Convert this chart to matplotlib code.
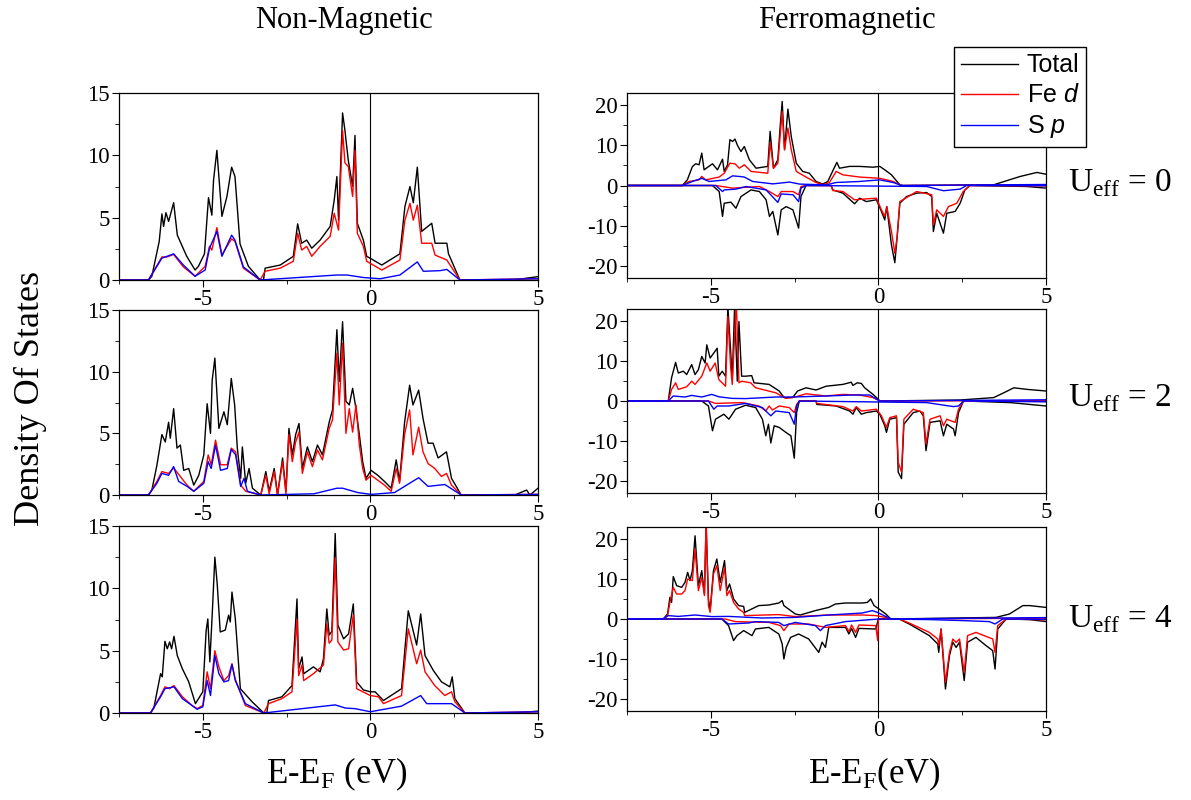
import matplotlib.pyplot as plt
from matplotlib.ticker import MultipleLocator
from matplotlib.lines import Line2D

plt.rcParams['font.family'] = 'Liberation Serif'
plt.rcParams['mathtext.fontset'] = 'custom'
plt.rcParams['mathtext.rm'] = 'Liberation Serif'
plt.rcParams['mathtext.it'] = 'Liberation Sans:italic'
plt.rcParams['axes.unicode_minus'] = False

# ---- data: (E - E_F in eV, DOS) ----

# Non-magnetic, U_eff = 0
nm_u0_total = [(-7.5, 0), (-6.62, 0), (-6.52, 0.3), (-6.30, 3.1), (-6.22, 5.3), (-6.17, 4.3), (-6.10, 5.4),
               (-6.02, 4.7), (-5.87, 6.2), (-5.76, 3.6), (-5.48, 1.9), (-5.23, 0.8), (-5.13, 1.1), (-4.95, 2.1),
               (-4.83, 6.6), (-4.73, 5.2), (-4.68, 8.0), (-4.58, 10.4), (-4.43, 5.1), (-4.28, 6.7), (-4.14, 9.05),
               (-4.04, 8.3), (-3.89, 2.9), (-3.64, 1.1), (-3.29, 0), (-3.19, 0), (-3.14, 0.95), (-2.69, 1.2),
               (-2.30, 1.9), (-2.17, 4.5), (-2.05, 2.95), (-1.90, 3.2), (-1.75, 2.55), (-1.50, 3.2), (-1.20, 4.3),
               (-1.08, 6.4), (-1.00, 8.3), (-0.95, 4.8), (-0.83, 13.4), (-0.76, 12.0), (-0.66, 9.6), (-0.53, 7.5),
               (-0.46, 11.6), (-0.39, 4.55), (-0.21, 3.2), (-0.11, 1.9), (-0.01, 1.75), (0.34, 1.2), (0.88, 2.1),
               (1.03, 5.9), (1.18, 7.5), (1.28, 6.2), (1.40, 9.05), (1.53, 3.9), (1.83, 4.55), (1.93, 2.95),
               (2.28, 2.95), (2.33, 2.1), (2.67, 0), (4.26, 0), (5.0, 0.27)]
nm_u0_fed = [(-7.5, 0), (-6.62, 0), (-6.22, 1.85), (-6.07, 1.85), (-5.87, 2.05), (-5.58, 1.05), (-5.23, 0.3),
             (-4.93, 1.1), (-4.80, 2.7), (-4.73, 2.4), (-4.58, 4.2), (-4.43, 2.0), (-4.28, 2.7), (-4.14, 3.3),
             (-4.04, 3.1), (-3.79, 0.95), (-3.29, 0), (-3.14, 0.7), (-2.69, 0.95), (-2.30, 1.5), (-2.17, 3.75),
             (-2.05, 2.4), (-1.90, 2.7), (-1.75, 1.9), (-1.50, 2.7), (-1.20, 3.5), (-1.08, 5.35), (-0.95, 4.0),
             (-0.83, 12.0), (-0.76, 9.4), (-0.66, 9.1), (-0.53, 6.7), (-0.46, 10.4), (-0.39, 3.75), (-0.21, 2.7),
             (-0.11, 1.5), (0.34, 0.8), (0.88, 1.6), (1.03, 4.8), (1.18, 6.15), (1.28, 4.8), (1.40, 6.0),
             (1.53, 2.95), (1.83, 2.95), (1.93, 2.0), (2.28, 1.6), (2.67, 0), (5.0, 0.1)]
nm_u0_sp = [(-7.5, 0), (-6.62, 0), (-6.22, 1.75), (-5.87, 2.1), (-5.58, 1.2), (-5.23, 0.3), (-4.93, 0.8),
            (-4.80, 2.55), (-4.58, 3.9), (-4.43, 1.9), (-4.14, 3.6), (-4.04, 3.2), (-3.79, 1.05), (-3.29, 0),
            (-1.00, 0.4), (-0.70, 0.4), (-0.21, 0.2), (0.29, 0.1), (0.88, 0.4), (1.40, 1.45), (1.58, 0.7),
            (2.08, 0.75), (2.28, 0.85), (2.67, 0), (5.0, 0.1)]

# Non-magnetic, U_eff = 2
nm_u2_total = [(-7.5, 0), (-6.62, 0), (-6.52, 0.4), (-6.37, 2.4), (-6.22, 4.9), (-6.12, 4.3), (-6.02, 5.9),
               (-5.97, 4.6), (-5.87, 7.0), (-5.77, 3.8), (-5.67, 4.05), (-5.57, 2.0), (-5.42, 2.15), (-5.27, 0.8),
               (-5.12, 1.6), (-4.97, 3.25), (-4.87, 7.4), (-4.77, 5.0), (-4.72, 9.3), (-4.64, 11.1), (-4.52, 5.4),
               (-4.37, 6.75), (-4.27, 5.7), (-4.15, 9.45), (-4.05, 7.3), (-3.97, 3.8), (-3.87, 1.35), (-3.82, 3.9),
               (-3.72, 0.95), (-3.62, 2.15), (-3.52, 0.55), (-3.27, 0), (-3.12, 1.9), (-3.02, 0.3), (-2.87, 2.15),
               (-2.77, 0), (-2.62, 3.0), (-2.52, 0.3), (-2.43, 5.4), (-2.33, 3.25), (-2.23, 4.9), (-2.13, 5.8),
               (-2.03, 2.15), (-1.88, 3.9), (-1.73, 2.7), (-1.58, 4.05), (-1.43, 3.25), (-1.23, 5.9), (-1.13, 6.9),
               (-1.00, 13.4), (-0.93, 9.2), (-0.83, 14.05), (-0.73, 7.6), (-0.63, 7.3), (-0.53, 8.65), (-0.43, 7.0),
               (-0.33, 4.9), (-0.23, 2.7), (-0.13, 1.35), (0.02, 2.0), (0.22, 1.6), (0.42, 1.1), (0.62, 0.55),
               (0.77, 2.85), (0.87, 1.1), (1.02, 5.9), (1.17, 8.9), (1.27, 7.3), (1.44, 8.5), (1.57, 6.2),
               (1.72, 4.2), (1.87, 4.2), (2.02, 3.0), (2.27, 3.5), (2.42, 1.35), (2.71, 0), (4.31, 0), (4.66, 0.4),
               (4.76, 0), (5.0, 0.55)]
nm_u2_fed = [(-7.5, 0), (-6.62, 0), (-6.37, 1.1), (-6.22, 1.9), (-6.02, 1.75), (-5.87, 2.2), (-5.67, 1.5),
             (-5.47, 0.8), (-5.27, 0.3), (-4.97, 1.1), (-4.84, 3.25), (-4.75, 2.45), (-4.62, 4.45), (-4.47, 2.45),
             (-4.27, 2.45), (-4.15, 3.8), (-4.02, 3.5), (-3.87, 0.8), (-3.72, 0.3), (-3.27, 0), (-3.12, 1.6),
             (-3.02, 0.1), (-2.87, 1.9), (-2.77, 0), (-2.62, 2.7), (-2.52, 0.1), (-2.43, 4.9), (-2.33, 2.7),
             (-2.23, 4.3), (-2.13, 5.1), (-2.03, 1.75), (-1.88, 3.5), (-1.73, 2.3), (-1.58, 3.65), (-1.43, 2.85),
             (-1.23, 5.4), (-1.13, 6.1), (-1.00, 11.5), (-0.93, 7.3), (-0.83, 12.3), (-0.73, 5.0), (-0.63, 7.0),
             (-0.53, 5.1), (-0.43, 7.3), (-0.33, 4.05), (-0.23, 2.15), (-0.13, 1.2), (0.02, 1.6), (0.22, 1.2),
             (0.42, 0.8), (0.62, 0.3), (0.77, 2.15), (0.87, 0.95), (1.02, 4.9), (1.17, 6.9), (1.27, 3.25),
             (1.44, 5.5), (1.57, 3.5), (1.72, 2.55), (1.92, 2.15), (2.12, 1.5), (2.27, 1.75), (2.42, 0.8),
             (2.71, 0), (5.0, 0.05)]
nm_u2_sp = [(-7.5, 0), (-6.62, 0), (-6.37, 0.95), (-6.22, 1.75), (-6.02, 1.6), (-5.87, 2.3), (-5.72, 1.1),
            (-5.47, 0.7), (-5.27, 0.3), (-4.97, 0.95), (-4.84, 2.7), (-4.75, 2.15), (-4.62, 4.05), (-4.47, 2.0),
            (-4.27, 2.15), (-4.15, 3.7), (-4.02, 3.25), (-3.87, 0.7), (-3.77, 1.35), (-3.67, 0.3), (-3.27, 0),
            (-1.68, 0.1), (-1.0, 0.55), (-0.83, 0.55), (-0.38, 0.2), (0.02, 0.05), (0.72, 0.2), (1.17, 0.95),
            (1.44, 1.4), (1.72, 0.7), (2.22, 0.85), (2.71, 0), (5.0, 0.05)]

# Non-magnetic, U_eff = 4
nm_u4_total = [(-7.5, 0), (-6.56, 0), (-6.46, 0.4), (-6.26, 3.15), (-6.21, 2.9), (-6.13, 5.75), (-6.06, 5.15),
               (-5.99, 5.7), (-5.93, 5.15), (-5.86, 6.15), (-5.76, 4.6), (-5.61, 3.55), (-5.42, 2.5), (-5.22, 0.75),
               (-5.07, 1.4), (-5.0, 1.7), (-4.90, 6.6), (-4.85, 7.55), (-4.79, 4.1), (-4.72, 7.85), (-4.64, 12.5),
               (-4.57, 10.35), (-4.48, 6.5), (-4.33, 6.65), (-4.23, 7.85), (-4.18, 7.3), (-4.13, 9.7), (-4.03, 7.55),
               (-3.88, 1.95), (-3.53, 0.9), (-3.18, 0), (-3.09, 0), (-3.04, 1.0), (-2.64, 1.3), (-2.34, 2.2),
               (-2.19, 9.15), (-2.14, 3.55), (-2.04, 4.5), (-1.99, 3.15), (-1.70, 3.7), (-1.50, 3.3), (-1.40, 4.35),
               (-1.30, 8.35), (-1.23, 6.25), (-1.15, 6.55), (-1.05, 14.4), (-0.97, 7.05), (-0.80, 5.95),
               (-0.65, 6.35), (-0.51, 8.75), (-0.41, 2.5), (-0.21, 1.85), (0.0, 1.7), (0.14, 1.7), (0.39, 1.0),
               (0.93, 1.95), (1.03, 5.15), (1.13, 8.2), (1.38, 5.45), (1.50, 7.95), (1.63, 4.6), (1.88, 3.4),
               (2.12, 2.5), (2.37, 2.1), (2.44, 2.9), (2.52, 1.15), (2.82, 0), (4.31, 0), (5.0, 0.15)]
nm_u4_fed = [(-7.5, 0), (-6.56, 0), (-6.26, 1.4), (-6.13, 2.1), (-5.99, 1.95), (-5.86, 2.2), (-5.61, 1.3),
             (-5.32, 0.6), (-5.17, 0.35), (-5.0, 0.6), (-4.87, 3.3), (-4.77, 1.95), (-4.64, 5.0), (-4.52, 3.7),
             (-4.37, 2.6), (-4.23, 3.0), (-4.13, 3.95), (-4.03, 2.7), (-3.73, 0.6), (-3.18, 0), (-3.04, 0.75),
             (-2.64, 1.15), (-2.34, 1.7), (-2.19, 7.5), (-2.14, 3.0), (-2.04, 3.85), (-1.99, 2.6), (-1.70, 3.15),
             (-1.40, 3.85), (-1.30, 7.15), (-1.23, 5.6), (-1.15, 5.85), (-1.05, 12.45), (-0.97, 5.7),
             (-0.80, 5.05), (-0.65, 5.15), (-0.51, 7.85), (-0.41, 1.95), (0.0, 1.4), (0.24, 1.3), (0.39, 0.75),
             (0.93, 1.4), (1.03, 4.1), (1.13, 6.75), (1.38, 3.95), (1.50, 5.05), (1.63, 3.3), (1.92, 2.2),
             (2.22, 1.4), (2.42, 1.7), (2.52, 0.9), (2.82, 0), (5.0, 0.1)]
nm_u4_sp = [(-7.5, 0), (-6.56, 0), (-6.26, 1.3), (-6.13, 1.95), (-5.86, 2.1), (-5.61, 1.15), (-5.32, 0.6),
            (-5.17, 0.3), (-5.0, 0.5), (-4.87, 2.6), (-4.77, 1.4), (-4.64, 4.6), (-4.52, 3.15), (-4.37, 2.5),
            (-4.23, 2.6), (-4.13, 3.9), (-4.03, 2.6), (-3.73, 0.75), (-3.18, 0), (-1.05, 0.65), (-0.75, 0.4),
            (-0.46, 0.35), (0.0, 0.1), (0.93, 0.55), (1.50, 1.4), (1.68, 0.75), (2.42, 0.75), (2.82, 0),
            (5.0, 0.1)]

# Ferromagnetic, U_eff = 0 (spin up positive, spin down negative)
fm_u0_total_up = [(-7.5, 0), (-5.85, 0), (-5.70, 1.4), (-5.55, 4.7), (-5.45, 5.4), (-5.35, 5.15), (-5.27, 8.05),
                  (-5.20, 3.9), (-4.95, 5.4), (-4.80, 3.9), (-4.65, 6.55), (-4.60, 3.5), (-4.50, 5.15),
                  (-4.43, 11.4), (-4.35, 10.95), (-4.28, 11.55), (-4.20, 9.9), (-4.10, 8.45), (-4.00, 9.7),
                  (-3.85, 6.4), (-3.65, 4.3), (-3.30, 4.75), (-3.23, 13.45), (-3.13, 4.3), (-3.00, 6.4),
                  (-2.93, 14.7), (-2.87, 20.9), (-2.80, 8.9), (-2.70, 19.0), (-2.60, 12.2), (-2.45, 5.55),
                  (-2.26, 3.5), (-2.06, 3.05), (-1.86, 1.0), (-1.66, 0.35), (-1.51, 1.0), (-1.36, 3.65),
                  (-1.24, 5.75), (-1.16, 4.3), (-0.86, 4.75), (-0.56, 4.75), (-0.16, 4.55), (0.04, 4.75),
                  (0.19, 3.9), (0.39, 2.65), (0.64, 0.15), (0.74, 0), (3.43, 0.15), (4.23, 2.25), (4.73, 3.25),
                  (5.0, 2.8)]
fm_u0_total_dn = [(-7.5, 0), (-4.95, 0), (-4.75, -1.5), (-4.65, -7.7), (-4.60, -4.4), (-4.40, -4.15),
                  (-4.25, -5.65), (-4.10, -2.75), (-3.80, -1.1), (-3.55, -1.5), (-3.35, -3.55), (-3.25, -7.7),
                  (-3.15, -6.45), (-3.00, -12.3), (-2.90, -6.05), (-2.75, -5.25), (-2.55, -6.05), (-2.38, -10.6),
                  (-2.31, -2.75), (-2.16, 0), (-1.41, 0), (-1.36, -1.1), (-1.06, -1.9), (-0.71, -4.55),
                  (-0.56, -3.15), (-0.36, -4.0), (-0.06, -3.55), (0.09, -6.45), (0.19, -8.55), (0.25, -5.25),
                  (0.39, -14.8), (0.49, -19.2), (0.56, -12.7), (0.64, -4.4), (0.84, -2.75), (1.14, -1.9),
                  (1.44, -1.75), (1.59, -2.75), (1.64, -11.45), (1.74, -6.9), (1.94, -11.85), (2.04, -6.9),
                  (2.29, -6.45), (2.44, -4.4), (2.58, -1.1), (2.73, 0), (4.43, -0.25), (5.0, -0.65)]
fm_u0_fed_up = [(-7.5, 0), (-5.85, 0), (-5.65, 1.0), (-5.35, 1.4), (-5.27, 2.25), (-5.15, 1.4), (-4.75, 2.1),
                (-4.60, 3.05), (-4.43, 5.55), (-4.28, 5.4), (-4.15, 4.3), (-4.00, 5.15), (-3.80, 3.5),
                (-3.30, 3.05), (-3.23, 10.7), (-3.13, 4.3), (-3.00, 5.55), (-2.87, 18.4), (-2.80, 8.9),
                (-2.70, 14.3), (-2.60, 8.9), (-2.45, 3.5), (-2.16, 2.1), (-1.86, 0.75), (-1.66, 0.15),
                (-1.46, 0.75), (-1.26, 3.5), (-1.06, 2.65), (-0.56, 2.1), (0.04, 1.8), (0.44, 1.0), (0.69, 0),
                (5.0, 0.15)]
fm_u0_fed_dn = [(-7.5, 0), (-4.85, 0), (-4.35, -0.65), (-3.55, -0.25), (-3.25, -1.5), (-3.00, -2.75),
                (-2.90, -1.5), (-2.55, -1.5), (-2.38, -2.3), (-2.31, -0.25), (-2.16, 0), (-1.41, 0),
                (-1.36, -1.25), (-1.06, -1.5), (-0.71, -3.55), (-0.06, -3.15), (0.09, -6.05), (0.19, -7.7),
                (0.25, -5.25), (0.39, -11.45), (0.49, -16.85), (0.56, -12.7), (0.64, -4.0), (1.14, -1.5),
                (1.59, -2.3), (1.64, -9.8), (1.74, -6.05), (1.94, -7.7), (2.09, -5.25), (2.34, -4.4),
                (2.53, -1.5), (2.73, 0), (5.0, -0.1)]
fm_u0_sp_up = [(-7.5, 0), (-5.85, 0), (-5.55, 1.0), (-5.27, 1.8), (-5.05, 1.0), (-4.55, 1.4), (-4.35, 2.4),
               (-4.15, 2.25), (-4.00, 2.1), (-3.75, 1.0), (-3.15, 0.4), (-2.65, 0.85), (-2.35, 0.35),
               (-1.56, 0.15), (-1.26, 0.75), (-0.56, 1.0), (0.04, 1.4), (0.44, 0.75), (0.69, 0), (5.0, 0.25)]
fm_u0_sp_dn = [(-7.5, 0), (-4.85, 0), (-4.65, -1.5), (-4.60, -1.1), (-4.25, -0.9), (-3.95, -0.25),
               (-3.35, -1.1), (-3.00, -4.2), (-2.90, -2.1), (-2.55, -2.3), (-2.38, -4.0), (-2.31, -0.65),
               (-2.16, 0), (1.44, -0.25), (1.94, -1.3), (2.44, -0.9), (2.63, 0), (5.0, -0.05)]

# Ferromagnetic, U_eff = 2
fm_u2_total_up = [(-7.5, 0), (-6.27, 0), (-6.17, 5.8), (-6.05, 9.65), (-5.97, 7.0), (-5.82, 7.45), (-5.72, 6.6),
                  (-5.57, 9.1), (-5.47, 6.6), (-5.37, 7.85), (-5.27, 11.15), (-5.17, 9.5), (-5.12, 14.05),
                  (-5.02, 10.75), (-4.91, 12.0), (-4.81, 13.2), (-4.76, 6.2), (-4.66, 7.45), (-4.56, 6.2),
                  (-4.49, 23.5), (-4.41, 12.8), (-4.36, 5.35), (-4.29, 23.5), (-4.21, 4.95), (-4.16, 19.85),
                  (-4.08, 6.2), (-3.96, 6.2), (-3.78, 6.35), (-3.71, 4.55), (-3.26, 4.15), (-2.96, 2.5),
                  (-2.81, 0.85), (-2.56, 0.85), (-2.41, 2.5), (-2.16, 3.3), (-1.86, 2.75), (-1.56, 3.7),
                  (-1.06, 4.15), (-0.81, 4.7), (-0.76, 3.9), (-0.63, 4.55), (-0.51, 4.4), (-0.41, 3.3),
                  (-0.16, 1.65), (0.0, 0.4), (0.04, 0), (2.44, 0.25), (3.44, 0.85), (3.74, 2.05), (4.04, 3.3),
                  (4.44, 2.9), (5.0, 2.5)]
fm_u2_total_dn = [(-7.5, 0), (-5.27, 0), (-5.07, -1.25), (-4.95, -7.45), (-4.86, -4.55), (-4.61, -3.3),
                  (-4.46, -4.55), (-4.26, -2.05), (-3.96, -1.05), (-3.66, -1.65), (-3.46, -4.55), (-3.36, -8.7),
                  (-3.28, -5.8), (-3.21, -10.5), (-3.11, -6.2), (-2.96, -6.6), (-2.76, -7.85), (-2.61, -8.7),
                  (-2.51, -14.3), (-2.44, -2.9), (-2.36, 0), (-1.86, 0), (-1.84, -0.85), (-1.26, -1.25),
                  (-0.86, -2.5), (-0.76, -3.3), (-0.66, -1.65), (-0.51, -3.3), (-0.36, -2.9), (-0.06, -2.5),
                  (0.04, -3.3), (0.19, -6.2), (0.24, -7.85), (0.34, -4.55), (0.54, -4.15), (0.59, -17.75),
                  (0.69, -19.4), (0.76, -5.8), (1.04, -2.9), (1.24, -2.5), (1.34, -3.7), (1.42, -12.4),
                  (1.54, -5.35), (1.84, -4.95), (1.94, -8.7), (2.04, -5.8), (2.24, -7.0), (2.29, -8.7),
                  (2.39, -2.9), (2.54, 0), (3.94, -0.4), (5.0, -1.25)]
fm_u2_fed_up = [(-7.5, 0), (-6.27, 0), (-6.17, 2.9), (-6.05, 4.55), (-5.97, 2.9), (-5.72, 3.55), (-5.57, 4.95),
                (-5.47, 4.15), (-5.27, 6.2), (-5.12, 9.5), (-5.02, 7.45), (-4.87, 9.5), (-4.76, 5.35),
                (-4.56, 3.7), (-4.49, 21.1), (-4.41, 8.7), (-4.36, 4.15), (-4.24, 25.0), (-4.16, 4.55),
                (-4.08, 4.95), (-3.81, 4.55), (-3.66, 3.3), (-3.06, 2.05), (-2.76, 0.65), (-2.46, 1.05),
                (-2.16, 1.8), (-1.56, 1.25), (-1.06, 1.65), (-0.56, 1.5), (-0.16, 0.85), (0.04, 0), (5.0, 0.1)]
fm_u2_fed_dn = [(-7.5, 0), (-5.07, 0), (-4.86, -0.6), (-4.06, -0.4), (-3.56, -1.25), (-3.36, -2.5),
                (-3.26, -1.25), (-3.16, -2.25), (-2.96, -1.25), (-2.66, -1.65), (-2.51, -2.9), (-2.44, -0.85),
                (-2.36, 0), (-1.86, 0), (-1.84, -0.6), (-1.06, -1.4), (-0.76, -2.5), (-0.66, -1.4), (-0.51, -2.5),
                (-0.06, -2.05), (0.09, -3.7), (0.24, -6.6), (0.34, -4.15), (0.54, -3.7), (0.59, -15.3),
                (0.69, -17.75), (0.76, -4.55), (1.04, -2.05), (1.34, -2.9), (1.42, -10.75), (1.54, -4.55),
                (1.84, -3.7), (1.94, -6.2), (2.04, -4.55), (2.29, -5.35), (2.39, -2.05), (2.54, 0), (5.0, -0.1)]
fm_u2_sp_up = [(-7.5, 0), (-6.27, 0), (-6.12, 1.25), (-5.77, 1.0), (-5.57, 1.4), (-5.27, 1.0), (-4.97, 1.65),
               (-4.76, 1.05), (-4.36, 0.65), (-3.96, 0.6), (-3.06, 1.0), (-2.56, 1.0), (-1.56, 1.25),
               (-0.76, 1.5), (-0.26, 1.5), (0.04, 0), (5.0, 0.3)]
fm_u2_sp_dn = [(-7.5, 0), (-5.07, 0), (-4.91, -2.05), (-4.81, -1.25), (-4.46, -1.25), (-3.96, -0.6),
               (-3.46, -1.65), (-3.21, -3.7), (-3.06, -2.5), (-2.66, -2.9), (-2.51, -5.8), (-2.44, -1.25),
               (-2.36, 0), (1.44, -0.4), (2.24, -1.4), (2.39, -1.25), (2.54, 0), (5.0, -0.2)]

# Ferromagnetic, U_eff = 4
fm_u4_total_up = [(-7.5, 0), (-6.42, 0), (-6.29, 1.25), (-6.22, 5.4), (-6.17, 4.15), (-6.12, 10.6), (-6.02, 8.35),
                  (-5.87, 7.9), (-5.77, 9.15), (-5.69, 11.65), (-5.62, 9.6), (-5.55, 12.1), (-5.47, 20.8),
                  (-5.37, 8.35), (-5.27, 12.1), (-5.19, 6.25), (-5.14, 23.5), (-5.07, 5.0), (-5.02, 2.1),
                  (-4.92, 12.1), (-4.82, 15.0), (-4.72, 9.15), (-4.59, 14.6), (-4.52, 7.1), (-4.44, 8.75),
                  (-4.32, 5.0), (-4.17, 3.35), (-4.02, 3.15), (-3.99, 1.65), (-3.57, 3.35), (-3.27, 3.5),
                  (-2.97, 4.0), (-2.87, 4.6), (-2.82, 3.35), (-2.48, 1.25), (-2.33, 1.0), (-1.88, 2.1),
                  (-1.48, 2.9), (-1.28, 3.75), (-0.98, 4.0), (-0.48, 4.0), (-0.33, 4.15), (-0.23, 5.0),
                  (-0.13, 3.35), (0.02, 2.5), (0.22, 1.25), (0.37, 0), (3.51, 0.4), (3.91, 1.25), (4.31, 3.35),
                  (4.51, 3.35), (5.0, 2.9)]
fm_u4_total_dn = [(-7.5, 0), (-4.67, 0), (-4.47, -1.65), (-4.32, -5.4), (-4.22, -4.15), (-4.02, -2.9),
                  (-3.77, -4.15), (-3.67, -2.5), (-3.27, -2.1), (-2.97, -3.75), (-2.87, -6.25), (-2.82, -10.0),
                  (-2.75, -7.1), (-2.62, -4.6), (-2.38, -3.75), (-2.08, -5.0), (-1.78, -8.35), (-1.68, -5.8),
                  (-1.58, -7.1), (-1.48, -2.1), (-0.98, -2.1), (-0.88, -3.75), (-0.80, -2.35), (-0.68, -4.6),
                  (-0.58, -2.35), (-0.08, -2.5), (0.0, 0), (0.62, 0), (0.92, -1.25), (1.52, -4.15),
                  (1.77, -6.25), (1.80, -8.35), (1.87, -2.5), (2.00, -17.5), (2.12, -9.15), (2.22, -5.8),
                  (2.32, -7.1), (2.42, -5.8), (2.56, -15.4), (2.66, -5.8), (2.91, -4.6), (3.21, -6.65),
                  (3.41, -7.9), (3.48, -12.5), (3.56, -2.5), (3.81, 0), (4.51, -0.15), (5.0, -0.65)]
fm_u4_fed_up = [(-7.5, 0), (-6.42, 0), (-6.29, 0.85), (-6.22, 4.15), (-6.12, 7.9), (-6.02, 6.25), (-5.87, 6.25),
                (-5.77, 7.1), (-5.69, 10.0), (-5.55, 9.6), (-5.47, 17.5), (-5.37, 7.1), (-5.27, 10.4),
                (-5.19, 5.85), (-5.14, 25.0), (-5.07, 3.35), (-5.02, 1.65), (-4.92, 11.25), (-4.82, 13.35),
                (-4.72, 7.1), (-4.59, 12.9), (-4.52, 5.85), (-4.44, 7.1), (-4.32, 4.15), (-4.17, 2.5),
                (-4.02, 1.65), (-3.99, 0.85), (-2.97, 1.1), (-2.48, 0.6), (-1.48, 1.0), (-0.48, 1.0),
                (-0.08, 0.85), (0.22, 0.4), (0.37, 0), (5.0, 0.2)]
fm_u4_fed_dn = [(-7.5, 0), (-4.57, 0), (-4.27, -0.65), (-3.27, -0.85), (-2.92, -1.65), (-2.82, -2.9),
                (-2.67, -1.25), (-2.08, -1.25), (-1.58, -2.1), (-0.98, -1.65), (-0.88, -3.15), (-0.80, -1.5),
                (-0.68, -3.35), (-0.58, -1.5), (-0.08, -1.65), (-0.02, -5.4), (0.0, 0), (0.62, 0),
                (0.92, -1.0), (1.52, -3.35), (1.77, -5.0), (1.80, -6.65), (1.87, -2.5), (2.00, -15.8),
                (2.12, -8.35), (2.22, -5.0), (2.32, -5.85), (2.42, -5.0), (2.56, -13.35), (2.66, -4.15),
                (2.91, -3.35), (3.41, -5.0), (3.48, -8.35), (3.56, -1.65), (3.81, 0), (5.0, -0.2)]
fm_u4_sp_up = [(-7.5, 0), (-6.42, 0), (-6.27, 0.85), (-5.97, 0.65), (-5.47, 1.0), (-4.97, 0.6), (-4.47, 0.65),
               (-3.47, 0.25), (-2.48, 0.4), (-1.48, 1.0), (-0.48, 1.5), (-0.18, 2.1), (-0.03, 1.65), (0.37, 0),
               (5.0, 0.35)]
fm_u4_sp_dn = [(-7.5, 0), (-4.67, 0), (-4.47, -1.25), (-3.87, -1.0), (-3.67, -0.65), (-2.97, -0.85),
               (-2.82, -1.65), (-2.48, -0.85), (-1.88, -1.65), (-1.73, -2.9), (-1.58, -1.65), (-0.98, -0.65),
               (0.0, 0), (1.52, -0.15), (2.52, -0.4), (3.31, -0.65), (3.48, -1.25), (3.71, 0), (5.0, -0.1)]

u_values = ['0', '2', '4']
nm_panels = [
    [nm_u0_total, nm_u0_fed, nm_u0_sp],
    [nm_u2_total, nm_u2_fed, nm_u2_sp],
    [nm_u4_total, nm_u4_fed, nm_u4_sp],
]
fm_panels = [
    [fm_u0_total_up, fm_u0_total_dn, fm_u0_fed_up, fm_u0_fed_dn, fm_u0_sp_up, fm_u0_sp_dn],
    [fm_u2_total_up, fm_u2_total_dn, fm_u2_fed_up, fm_u2_fed_dn, fm_u2_sp_up, fm_u2_sp_dn],
    [fm_u4_total_up, fm_u4_total_dn, fm_u4_fed_up, fm_u4_fed_dn, fm_u4_sp_up, fm_u4_sp_dn],
]
series_colors = ['black', 'red', 'blue']
series_names = ['Total', 'Fe $d$', 'S $p$']


def draw(ax, pts, color):
    e = [p[0] for p in pts]
    d = [p[1] for p in pts]
    ax.plot(e, d, color=color, lw=1.0)


def style(ax, ylim, major, minor):
    ax.set_xlim(-7.5, 5)
    ax.set_ylim(*ylim)
    ax.xaxis.set_major_locator(MultipleLocator(5))
    ax.xaxis.set_minor_locator(MultipleLocator(2.5))
    ax.yaxis.set_major_locator(MultipleLocator(major))
    ax.yaxis.set_minor_locator(MultipleLocator(minor))
    ax.tick_params(which='both', direction='out', top=False, right=False, labelsize=16.5, pad=1.5)
    ax.tick_params(which='major', length=5)
    ax.tick_params(which='minor', length=3)
    ax.axvline(0, color='black', lw=0.8, zorder=1)
    for s in ax.spines.values():
        s.set_linewidth(0.9)


fig = plt.figure(figsize=(11.91, 8), dpi=100)

# axes boxes in pixels (left, top, right, bottom)
left_boxes = [(119, 93, 538, 280), (119, 310, 538, 495), (119, 526, 538, 713)]
right_boxes = [(627, 93, 1046, 278), (627, 309, 1046, 493), (627, 527, 1046, 711)]
W, H = 1191.0, 800.0


def add_axes(box):
    l, t, r, b = box
    return fig.add_axes([l / W, 1 - b / H, (r - l) / W, (b - t) / H])


for i in range(3):
    ax = add_axes(left_boxes[i])
    for pts, c in zip(nm_panels[i], series_colors):
        draw(ax, pts, c)
    style(ax, (0, 15), 5, 2.5)

    ax = add_axes(right_boxes[i])
    for j, pts in enumerate(fm_panels[i]):
        draw(ax, pts, series_colors[j // 2])
    style(ax, (-23, 23), 10, 5)

    ybase = [192, 407, 628][i]
    fig.text(1068 / W, 1 - ybase / H, r'U$_{\mathrm{eff}}$ = ' + u_values[i], fontsize=24,
             ha='left', va='baseline')

fig.text(344 / W, 1 - 28 / H, 'Non-Magnetic', fontsize=22, ha='center', va='baseline')
fig.text(847 / W, 1 - 28 / H, 'Ferromagnetic', fontsize=22, ha='center', va='baseline')
fig.text(30 / W, 1 - 398 / H, 'Density Of States', fontsize=26, rotation=90, ha='center', va='center')
fig.text(337 / W, 1 - 783 / H, r'E-E$_{\mathrm{F}}$ (eV)', fontsize=25, ha='center', va='baseline')
fig.text(874 / W, 1 - 783 / H, r'E-E$_{\mathrm{F}}$(eV)', fontsize=25, ha='center', va='baseline')

handles = [Line2D([], [], color=c, lw=1.0) for c in series_colors]
leg = fig.legend(handles, series_names, loc='upper left', bbox_to_anchor=(954 / W, 1 - 47 / H),
                 bbox_transform=fig.transFigure, borderaxespad=0, fancybox=False, framealpha=1,
                 edgecolor='black', handlelength=2.3, handletextpad=0.35, labelspacing=0.24,
                 borderpad=0.26, prop={'family': 'Liberation Sans', 'size': 18})
leg.get_frame().set_linewidth(1.0)

fig.savefig('out.png', dpi=100)
